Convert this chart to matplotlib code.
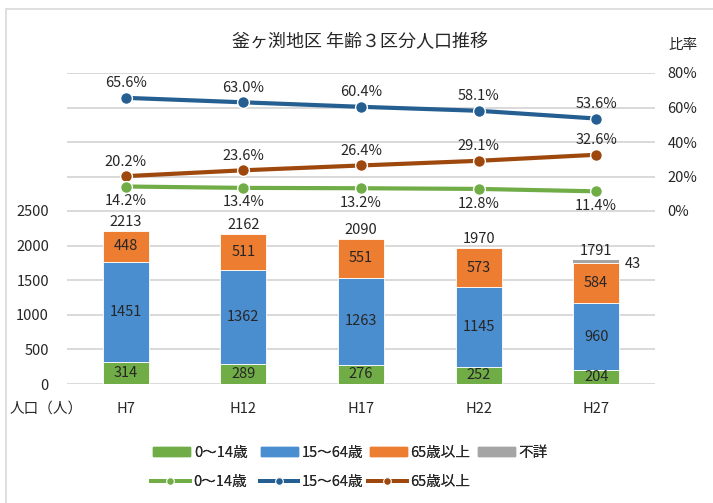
import numpy as np
import matplotlib
matplotlib.use("Agg")
import matplotlib.pyplot as plt
from matplotlib.patches import Rectangle, Patch
from matplotlib.lines import Line2D

plt.rcParams['font.family'] = ['Noto Sans CJK JP', 'DejaVu Sans']

# ---------------------------------------------------------------------------
# データ
# ---------------------------------------------------------------------------
years = ['H7', 'H12', 'H17', 'H22', 'H27']
pop_0_14 = [314, 289, 276, 252, 204]
pop_15_64 = [1451, 1362, 1263, 1145, 960]
pop_65 = [448, 511, 551, 573, 584]
pop_unknown = [0, 0, 0, 0, 43]
totals = [2213, 2162, 2090, 1970, 1791]

rate_0_14 = [14.2, 13.4, 13.2, 12.8, 11.4]
rate_15_64 = [65.6, 63.0, 60.4, 58.1, 53.6]
rate_65 = [20.2, 23.6, 26.4, 29.1, 32.6]

# 色
c_green = '#70AD47'
c_blue = '#4A8ED0'
c_orange = '#ED7D31'
c_gray = '#A5A5A5'
c_line_green = '#70AD47'
c_line_blue = '#255E91'
c_line_brown = '#9E480E'
grid_c = '#D9D9D9'
txt_c = '#262626'

W, H = 713, 503
fig = plt.figure(figsize=(W / 100, H / 100), dpi=100)

def fx(px):
    return px / W

def fy(py):
    return 1 - py / H

# 枠線
fig.patches.append(Rectangle((fx(6), fy(520)), fx(720), fy(9) - fy(520),
                             transform=fig.transFigure, fill=False,
                             edgecolor=grid_c, linewidth=1.2))

x = np.arange(len(years))
left, right = fx(67), fx(655)
fs = 10.5

# ---------------------------------------------------------------------------
# 棒グラフ（人口）
# ---------------------------------------------------------------------------
ax = fig.add_axes([left, fy(384), right - left, fy(211) - fy(384)])
bw = 0.39
b1 = np.array(pop_0_14)
b2 = b1 + np.array(pop_15_64)
b3 = b2 + np.array(pop_65)
ax.bar(x, pop_0_14, bw, color=c_green, edgecolor='white', linewidth=0.6, zorder=3)
ax.bar(x, pop_15_64, bw, bottom=b1, color=c_blue, edgecolor='white', linewidth=0.6, zorder=3)
ax.bar(x, pop_65, bw, bottom=b2, color=c_orange, edgecolor='white', linewidth=0.6, zorder=3)
ax.bar(x, pop_unknown, bw, bottom=b3, color=c_gray, linewidth=0, zorder=3)

for i in range(len(years)):
    ax.text(x[i], pop_0_14[i] / 2, str(pop_0_14[i]), ha='center', va='center',
            fontsize=fs, color=txt_c, zorder=5)
    ax.text(x[i], b1[i] + pop_15_64[i] / 2, str(pop_15_64[i]), ha='center', va='center',
            fontsize=fs, color=txt_c, zorder=5)
    ax.text(x[i], b2[i] + pop_65[i] / 2, str(pop_65[i]), ha='center', va='center',
            fontsize=fs, color=txt_c, zorder=5)
    ax.annotate(str(totals[i]), (x[i], totals[i]), xytext=(0, 6.5), textcoords='offset points',
                ha='center', va='center', fontsize=fs, color=txt_c, zorder=5)
    if pop_unknown[i] > 0:
        ax.annotate(str(pop_unknown[i]), (x[i] + bw / 2, totals[i]), xytext=(4, -2.5),
                    textcoords='offset points', ha='left', va='center',
                    fontsize=fs, color=txt_c, zorder=5)

ax.set_xlim(-0.5, len(years) - 0.5)
ax.set_ylim(0, 2500)
ax.set_yticks(np.arange(0, 2501, 500))
ax.set_xticks(x)
ax.set_xticklabels(years)
ax.tick_params(axis='both', length=0, labelsize=fs, colors=txt_c)
ax.tick_params(axis='y', pad=13)
ax.tick_params(axis='x', pad=13)
ax.grid(axis='y', color=grid_c, linewidth=1.4, zorder=0)
for s in ax.spines.values():
    s.set_visible(False)

fig.text(fx(10), fy(409), '人口（人）', ha='left', va='center', fontsize=fs, color=txt_c)

# ---------------------------------------------------------------------------
# 折れ線グラフ（比率）
# ---------------------------------------------------------------------------
ax2 = fig.add_axes([left, fy(211), right - left, fy(73) - fy(211)], sharex=ax)
line_kw = dict(linewidth=3.0, marker='o', markersize=8.5, markeredgecolor='white',
               markeredgewidth=1.0, zorder=4, clip_on=False)
ax2.plot(x, rate_15_64, color=c_line_blue, **line_kw)
ax2.plot(x, rate_65, color=c_line_brown, **line_kw)
ax2.plot(x, rate_0_14, color=c_line_green, **line_kw)

for i in range(len(years)):
    ax2.annotate(f'{rate_15_64[i]:.1f}%', (x[i], rate_15_64[i]), xytext=(0, 10.5),
                 textcoords='offset points', ha='center', va='center', fontsize=fs, color=txt_c)
    ax2.annotate(f'{rate_65[i]:.1f}%', (x[i], rate_65[i]), xytext=(0, 10.5),
                 textcoords='offset points', ha='center', va='center', fontsize=fs, color=txt_c)
    ax2.annotate(f'{rate_0_14[i]:.1f}%', (x[i], rate_0_14[i]), xytext=(0, -10.5),
                 textcoords='offset points', ha='center', va='center', fontsize=fs, color=txt_c)

ax2.set_ylim(0, 80)
ax2.set_yticks(np.arange(0, 81, 20))
ax2.set_yticklabels([f'{v}%' for v in range(0, 81, 20)])
ax2.yaxis.tick_right()
ax2.tick_params(axis='y', length=0, labelsize=fs, colors=txt_c, pad=9)
ax2.tick_params(axis='x', length=0, labelbottom=False)
ax2.grid(axis='y', color=grid_c, linewidth=1.4, zorder=0)
ax2.set_facecolor('none')
for s in ax2.spines.values():
    s.set_visible(False)

fig.text(fx(668), fy(45), '比率', ha='left', va='center', fontsize=fs, color=txt_c)

# タイトル
fig.text(fx(360), fy(42), '釜ヶ渕地区 年齢３区分人口推移', ha='center', va='center',
         fontsize=13, color=txt_c)

# ---------------------------------------------------------------------------
# 凡例（Excel風に等間隔で配置）
# ---------------------------------------------------------------------------
bar_handles = [Patch(color=c_green), Patch(color=c_blue), Patch(color=c_orange), Patch(color=c_gray)]
bar_labels = ['0～14歳', '15～64歳', '65歳以上', '不詳']
for i, (h, lab) in enumerate(zip(bar_handles, bar_labels)):
    lg = fig.legend([h], [lab], loc='center left', bbox_to_anchor=(fx(153 + 108.3 * i), fy(453)),
                    frameon=False, fontsize=fs, handlelength=2.55, handleheight=0.55,
                    handletextpad=0.25, borderpad=0, borderaxespad=0, labelcolor=txt_c)
    fig.add_artist(lg)

line_colors = [c_line_green, c_line_blue, c_line_brown]
line_labels = ['0～14歳', '15～64歳', '65歳以上']
for i, (c, lab) in enumerate(zip(line_colors, line_labels)):
    h = Line2D([], [], color=c, linewidth=2.8, marker='o', markersize=5.5,
               markeredgecolor='white', markeredgewidth=0.8)
    lg = fig.legend([h], [lab], loc='center left', bbox_to_anchor=(fx(151 + 108.5 * i), fy(482)),
                    frameon=False, fontsize=fs, handlelength=2.65,
                    handletextpad=0.25, borderpad=0, borderaxespad=0, labelcolor=txt_c)
    fig.add_artist(lg)

fig.savefig('out.png', dpi=100)
